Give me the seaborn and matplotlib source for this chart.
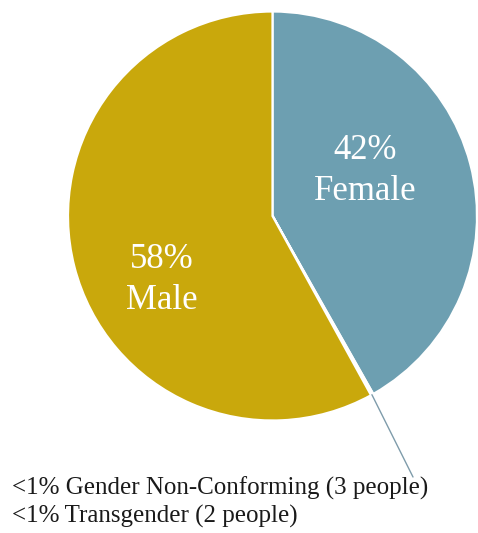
import numpy as np
import matplotlib
matplotlib.use("Agg")
import matplotlib.pyplot as plt
import seaborn as sns

categories = ["Female", "Gender Non-Conforming", "Transgender", "Male"]
shares = [41.8, 0.12, 0.08, 58.0]
inner_labels = ["42%\nFemale", "", "", "58%\nMale"]
footnotes = ["<1% Gender Non-Conforming (3 people)", "<1%\u2009Transgender (2 people)"]
colors = ["#6d9fb1", "#f4f1e0", "#f4f1e0", "#c9a80c"]

sns.set_theme(style="white")
plt.rcParams["font.family"] = ["Liberation Serif", "DejaVu Serif"]

W, H = 478, 533
fig = plt.figure(figsize=(W / 100, H / 100), dpi=100)
ax = fig.add_axes([0, 0, 1, 1])

cx, cy, r = 272.5, H - 216, 204.5
wedges, _ = ax.pie(shares, colors=colors, startangle=90, counterclock=False,
                   center=(cx, cy), radius=r,
                   wedgeprops=dict(edgecolor="white", linewidth=1.6))
ax.set_xlim(0, W)
ax.set_ylim(0, H)
ax.set_aspect("equal")
ax.axis("off")

# inner label positions (pixel coords from top-left)
label_pos = {0: (365, 171), 3: (162, 280)}
for i, lab in enumerate(inner_labels):
    if not lab:
        continue
    px, py = label_pos[i]
    ax.text(px, H - py, lab, color="white", fontsize=25, ha="center",
            va="center", linespacing=1.3)

# leader line from the tiny slices to the footnote
tiny = wedges[1]
ang = np.deg2rad((tiny.theta1 + wedges[2].theta2) / 2)
x0, y0 = cx + r * np.cos(ang), cy + r * np.sin(ang)
ax.plot([x0, 413], [y0, H - 477], color="#7f9cab", lw=1.0)

ax.text(12, H - 488, footnotes[0], fontsize=18, ha="left", va="center", color="#1a1a1a")
ax.text(12, H - 516, footnotes[1], fontsize=18, ha="left", va="center", color="#1a1a1a")

fig.savefig("out.png", dpi=100, facecolor="white")
